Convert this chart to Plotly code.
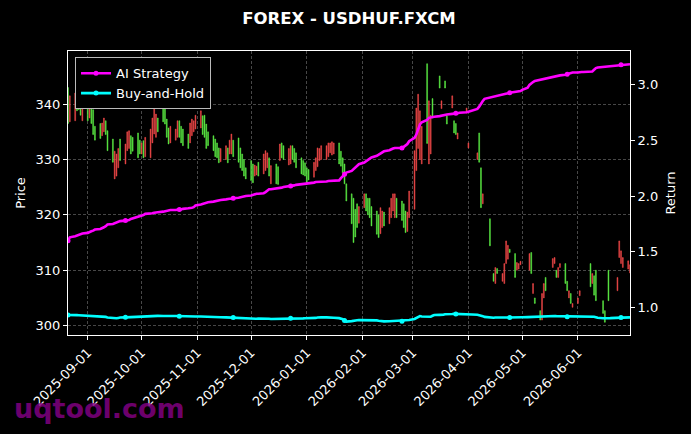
import plotly.graph_objects as go
import pandas as pd

title_text = "FOREX - USDHUF.FXCM"
start_date = "2025-08-21"

# daily open / close prices (None = no candle)
open_ = [
    343.0, 336.8, 337.0, 341.8, 341.5, 340.5, 337.0, 340.5, 337.5, 340.5,
    339.0, 336.0, 336.5, 334.3, 335.0, 337.0, 335.2, 333.7, 326.5, 327.0,
    328.5, 333.7, 329.2, 331.6, 332.0, 334.3, 334.0, 334.8, 333.5, 331.0,
    333.4, 330.5, 330.3, 333.0, 334.6, 334.0, 337.5, 340.2, 340.0, 337.3,
    335.7, 333.0, 333.5, 334.0, 337.0, 336.0, 335.5, 334.6, 333.0, 334.3,
    335.0, 335.5, 335.7, 337.9, 338.0, 336.4, 335.0, 334.3, 333.7, 333.0,
    332.1, 329.6, 330.0, 332.1, 331.0, 331.0, 333.5, 333.9, 332.1, 331.0,
    330.0, 328.5, 329.8, 329.2, 327.0, 327.2, 329.5, 327.4, 328.0, 328.5,
    330.3, 325.6, 329.2, 328.7, 329.8, 333.0, 332.5, 329.0, 329.2, 332.5,
    332.0, 331.2, 330.3, 329.8, 329.4, 328.5, 328.2, 326.8, 328.0, 328.7,
    329.8, 330.0, 330.0, 330.5, 331.2, 330.8, 331.0, 333.0, 331.5, 330.3,
    329.2, 325.6, 323.8, 323.0, 321.0, 322.0, 318.5, 321.3, 323.8, 323.0,
    323.0, 321.5, 320.7, 320.0, 316.6, 317.7, 320.5, 318.4, 319.5, 320.7,
    319.5, 323.0, 322.5, 322.0, 320.7, 317.0, 319.5, 321.0, 328.0, 332.0,
    330.0, 329.2, 347.3, 329.2, 331.0, 341.0, None, 345.1, 339.2, None,
    344.2, 337.9, 339.3, 337.0, 336.5, 333.7, None, None, 338.4, 332.1,
    None, None, 330.0, 334.8, 328.5, 322.0, None, 319.3, None, 309.4,
    307.6, 310.3, 308.0, 307.6, 311.2, 312.0, 313.8, 313.0, 310.0, 310.2,
    311.0, None, None, 310.0, 313.2, 305.8, 305.0, 302.7, 301.0, 305.0,
    308.7, None, 310.5, 311.2, 310.0, 308.7, 310.5, 311.2, 308.0, 305.0,
    305.8, 303.3, 304.0, 305.4, None, None, None, 311.2, 307.6, 309.0,
    310.0, None, 304.5, 302.7, None, 310.0, None, None, 306.3, 312.3,
    311.2, 310.5, 310.2, 309.5,
]
close_ = [
    336.5, 341.5, 342.0, 338.8, 339.0, 338.0, 340.0, 337.0, 341.0, 336.5,
    334.5, 333.5, 333.8, 336.6, 337.5, 334.5, 331.6, 329.5, 331.5, 331.0,
    332.0, 329.8, 332.8, 335.0, 335.2, 331.0, 331.5, 330.3, 331.0, 333.0,
    330.3, 334.0, 335.5, 337.5, 339.3, 338.2, 335.0, 336.8, 336.4, 334.0,
    332.8, 336.0, 335.5, 337.0, 334.0, 333.0, 332.5, 332.0, 336.6, 337.3,
    337.0, 338.0, 338.8, 334.5, 334.0, 332.0, 332.5, 331.6, 330.5, 330.3,
    329.4, 332.0, 332.5, 329.4, 333.5, 334.6, 330.5, 329.5, 328.5, 328.0,
    327.0, 326.5, 326.2, 325.8, 329.0, 328.8, 327.0, 331.0, 331.6, 331.2,
    327.0, 328.9, 325.6, 325.5, 332.8, 330.3, 330.0, 332.0, 332.5, 330.0,
    329.5, 328.5, 327.4, 327.2, 327.0, 325.8, 326.3, 329.5, 330.3, 332.1,
    332.0, 332.5, 332.5, 333.0, 333.0, 333.2, 333.0, 329.2, 328.8, 327.6,
    325.6, 322.5, 318.4, 315.0, 316.0, 317.7, 321.5, 323.8, 320.7, 320.0,
    319.5, 318.0, 316.5, 315.9, 321.3, 320.7, 318.0, 321.3, 323.0, 323.8,
    323.8, 319.5, 319.0, 317.7, 316.8, 320.5, 324.3, 331.6, 339.3, 341.8,
    338.8, 336.0, 332.9, 340.6, 338.0, 337.5, None, 342.9, 340.6, None,
    342.9, 336.4, 341.5, 334.8, 334.5, 334.8, None, None, 339.3, 333.0,
    None, None, 331.2, 329.5, 321.3, 323.8, None, 314.4, None, 308.0,
    310.5, 309.4, 309.4, 311.2, 315.3, 314.5, 313.2, 308.7, 311.4, 311.2,
    311.6, None, None, 313.0, 309.4, 307.6, 304.0, 301.0, 305.8, 307.6,
    306.3, None, 312.1, 312.3, 308.7, 310.5, 311.2, 307.6, 306.3, 306.3,
    304.0, 304.0, 305.0, 306.3, None, None, None, 307.0, 309.4, 305.5,
    304.5, None, 302.2, 300.6, None, 304.5, None, None, 308.7, 315.3,
    313.5, 312.3, 311.7, 311.0,
]

# cumulative returns (right axis)
ai_strategy = [
    1.600, 1.630, 1.640, 1.645, 1.650, 1.655, 1.665, 1.670, 1.680, 1.685,
    1.690, 1.700, 1.705, 1.710, 1.720, 1.730, 1.745, 1.750, 1.755, 1.760,
    1.765, 1.775, 1.780, 1.780, 1.785, 1.795, 1.800, 1.810, 1.815, 1.825,
    1.830, 1.840, 1.840, 1.845, 1.850, 1.850, 1.855, 1.860, 1.865, 1.870,
    1.875, 1.875, 1.875, 1.880, 1.880, 1.880, 1.885, 1.890, 1.890, 1.895,
    1.900, 1.915, 1.925, 1.930, 1.935, 1.940, 1.945, 1.950, 1.955, 1.955,
    1.960, 1.965, 1.970, 1.975, 1.975, 1.975, 1.980, 1.985, 1.990, 1.995,
    2.000, 2.000, 2.005, 2.010, 2.020, 2.020, 2.020, 2.025, 2.035, 2.050,
    2.060, 2.060, 2.065, 2.070, 2.070, 2.075, 2.080, 2.085, 2.090, 2.090,
    2.095, 2.100, 2.105, 2.110, 2.110, 2.115, 2.115, 2.120, 2.125, 2.125,
    2.130, 2.130, 2.130, 2.135, 2.135, 2.135, 2.135, 2.140, 2.160, 2.180,
    2.195, 2.210, 2.225, 2.240, 2.255, 2.270, 2.285, 2.300, 2.310, 2.320,
    2.330, 2.345, 2.360, 2.370, 2.385, 2.395, 2.400, 2.410, 2.420, 2.425,
    2.430, 2.430, 2.430, 2.440, 2.450, 2.465, 2.490, 2.520, 2.550, 2.590,
    2.640, 2.660, 2.680, 2.700, 2.705, 2.710, 2.710, 2.715, 2.720, 2.720,
    2.725, 2.730, 2.735, 2.735, 2.740, 2.740, 2.745, 2.745, 2.750, 2.755,
    2.760, 2.765, 2.780, 2.800, 2.830, 2.850, 2.870, 2.880, 2.885, 2.890,
    2.895, 2.900, 2.905, 2.910, 2.915, 2.920, 2.925, 2.930, 2.930, 2.935,
    2.940, 2.950, 2.970, 2.995, 3.010, 3.020, 3.030, 3.040, 3.045, 3.050,
    3.055, 3.060, 3.065, 3.070, 3.070, 3.075, 3.080, 3.085, 3.090, 3.100,
    3.100, 3.105, 3.105, 3.110, 3.110, 3.110, 3.110, 3.110, 3.115, 3.130,
    3.145, 3.150, 3.155, 3.160, 3.160, 3.165, 3.165, 3.170, 3.170, 3.170,
    3.175, 3.175, 3.180, 3.180,
]
buy_hold = [
    0.935, 0.936, 0.935, 0.934, 0.933, 0.932, 0.932, 0.931, 0.930, 0.930,
    0.929, 0.928, 0.926, 0.925, 0.922, 0.918, 0.913, 0.908, 0.905, 0.906,
    0.909, 0.912, 0.914, 0.915, 0.914, 0.913, 0.914, 0.915, 0.917, 0.920,
    0.922, 0.924, 0.926, 0.926, 0.925, 0.926, 0.927, 0.926, 0.925, 0.924,
    0.925, 0.926, 0.926, 0.925, 0.924, 0.924, 0.925, 0.924, 0.922, 0.921,
    0.920, 0.921, 0.922, 0.921, 0.920, 0.918, 0.917, 0.916, 0.915, 0.914,
    0.914, 0.915, 0.914, 0.913, 0.914, 0.914, 0.912, 0.910, 0.908, 0.906,
    0.905, 0.904, 0.902, 0.900, 0.899, 0.901, 0.903, 0.905, 0.905, 0.903,
    0.901, 0.899, 0.899, 0.901, 0.903, 0.904, 0.905, 0.905, 0.905, 0.904,
    0.905, 0.905, 0.904, 0.905, 0.906, 0.906, 0.905, 0.906, 0.909, 0.912,
    0.914, 0.915, 0.914, 0.914, 0.913, 0.912, 0.910, 0.907, 0.905, 0.898,
    0.885, 0.876, 0.880, 0.884, 0.886, 0.888, 0.889, 0.890, 0.891, 0.890,
    0.890, 0.889, 0.887, 0.884, 0.882, 0.880, 0.878, 0.879, 0.880, 0.881,
    0.881, 0.880, 0.880, 0.881, 0.882, 0.884, 0.890, 0.900, 0.910, 0.920,
    0.926, 0.922, 0.918, 0.915, 0.920, 0.928, 0.935, 0.936, 0.935, 0.937,
    0.942, 0.944, 0.944, 0.945, 0.945, 0.944, 0.944, 0.945, 0.944, 0.944,
    0.943, 0.940, 0.937, 0.934, 0.930, 0.925, 0.918, 0.910, 0.908, 0.910,
    0.912, 0.913, 0.914, 0.914, 0.913, 0.912, 0.913, 0.914, 0.915, 0.914,
    0.914, 0.915, 0.916, 0.917, 0.918, 0.920, 0.921, 0.922, 0.924, 0.926,
    0.926, 0.925, 0.926, 0.926, 0.925, 0.925, 0.924, 0.922, 0.920, 0.920,
    0.921, 0.922, 0.922, 0.921, 0.921, 0.920, 0.920, 0.921, 0.920, 0.920,
    0.915, 0.910, 0.906, 0.905, 0.905, 0.906, 0.907, 0.909, 0.910, 0.911,
    0.912, 0.913, 0.914, 0.914,
]

x_ticks = ["2025-09-01", "2025-10-01", "2025-11-01", "2025-12-01", "2026-01-01",
           "2026-02-01", "2026-03-01", "2026-04-01", "2026-05-01", "2026-06-01"]
price_ticks = [300, 310, 320, 330, 340]
return_ticks = [1.0, 1.5, 2.0, 2.5, 3.0]

# ---------------------------------------------------------------
dates = pd.bdate_range(start_date, periods=len(close_))
high_ = [max(o, c) if o is not None else None for o, c in zip(open_, close_)]
low_ = [min(o, c) if o is not None else None for o, c in zip(open_, close_)]

UP = "#f04848"     # rising candle (red)
DOWN = "#5cef45"   # falling candle (green)
MAG = "#ff00ff"
CYA = "#00ffff"
FONT = "DejaVu Sans"
MARK_EVERY = 22

fig = go.Figure()
fig.add_trace(go.Candlestick(
    x=dates, open=open_, high=high_, low=low_, close=close_,
    increasing=dict(line=dict(color=UP, width=0.5), fillcolor=UP),
    decreasing=dict(line=dict(color=DOWN, width=0.5), fillcolor=DOWN),
    showlegend=False, hoverinfo="skip", yaxis="y",
))

mark_idx = list(range(0, len(dates), MARK_EVERY))
for name, vals, col in [("AI Strategy", ai_strategy, MAG), ("Buy-and-Hold", buy_hold, CYA)]:
    fig.add_trace(go.Scatter(x=dates, y=vals, mode="lines", line=dict(color=col, width=2.6),
                             yaxis="y2", showlegend=False, hoverinfo="skip"))
    fig.add_trace(go.Scatter(x=[dates[i] for i in mark_idx], y=[vals[i] for i in mark_idx],
                             mode="markers", marker=dict(color=col, size=5, symbol="circle"),
                             yaxis="y2", showlegend=False, hoverinfo="skip"))
    fig.add_trace(go.Scatter(x=[None], y=[None], mode="lines+markers", name=name,
                             line=dict(color=col, width=2.6), marker=dict(color=col, size=5),
                             yaxis="y2"))

grid = dict(showgrid=True, gridcolor="rgba(255,255,255,0.28)", gridwidth=0.6, griddash="3px,2px")
axis_common = dict(showline=True, linecolor="white", linewidth=1, ticks="outside", ticklen=4,
                   tickcolor="white", tickwidth=1, tickfont=dict(color="white", size=13, family=FONT),
                   zeroline=False, automargin=False)

fig.update_layout(
    width=691, height=434,
    paper_bgcolor="black", plot_bgcolor="black",
    margin=dict(l=68, r=61, t=51, b=99, autoexpand=False),
    font=dict(family=FONT, color="white", size=13),
    title=dict(text=title_text, x=0.5, xref="paper", xanchor="center",
               y=1 - 18 / 434, yref="container", yanchor="middle",
               font=dict(family=FONT, size=16.5, color="white", weight="bold")),
    xaxis=dict(type="date", range=[dates[0], dates[-1]], tickvals=x_ticks, ticktext=x_ticks,
               tickangle=-45, mirror=True, rangeslider=dict(visible=False), **grid, **axis_common),
    yaxis=dict(range=[298.3, 349.6], tickvals=price_ticks, mirror=True,
               title=dict(text="Price", standoff=7, font=dict(size=13, color="white", family=FONT)),
               **grid, **axis_common),
    yaxis2=dict(range=[0.756, 3.298], tickvals=return_ticks, tickformat=".1f", overlaying="y",
                side="right", showgrid=False,
                title=dict(text="Return", standoff=8, font=dict(size=13, color="white", family=FONT)),
                **axis_common),
    legend=dict(x=0.0125, y=0.978, xanchor="left", yanchor="top", bgcolor="black",
                bordercolor="#bbbbbb", borderwidth=1, tracegroupgap=0,
                font=dict(size=13, color="white", family=FONT)),
    annotations=[dict(text="uqtool.com", xref="paper", yref="paper", x=(12 - 68) / 562,
                      y=(335 - 409) / 284, xanchor="left", yanchor="middle", showarrow=False,
                      font=dict(family=FONT, size=27, color="rgba(128,0,128,0.85)", weight="bold"))],
)

fig.write_html("out.html", config={"displayModeBar": False},
               post_script="document.body.style.margin='0';document.body.style.overflow='hidden';")
